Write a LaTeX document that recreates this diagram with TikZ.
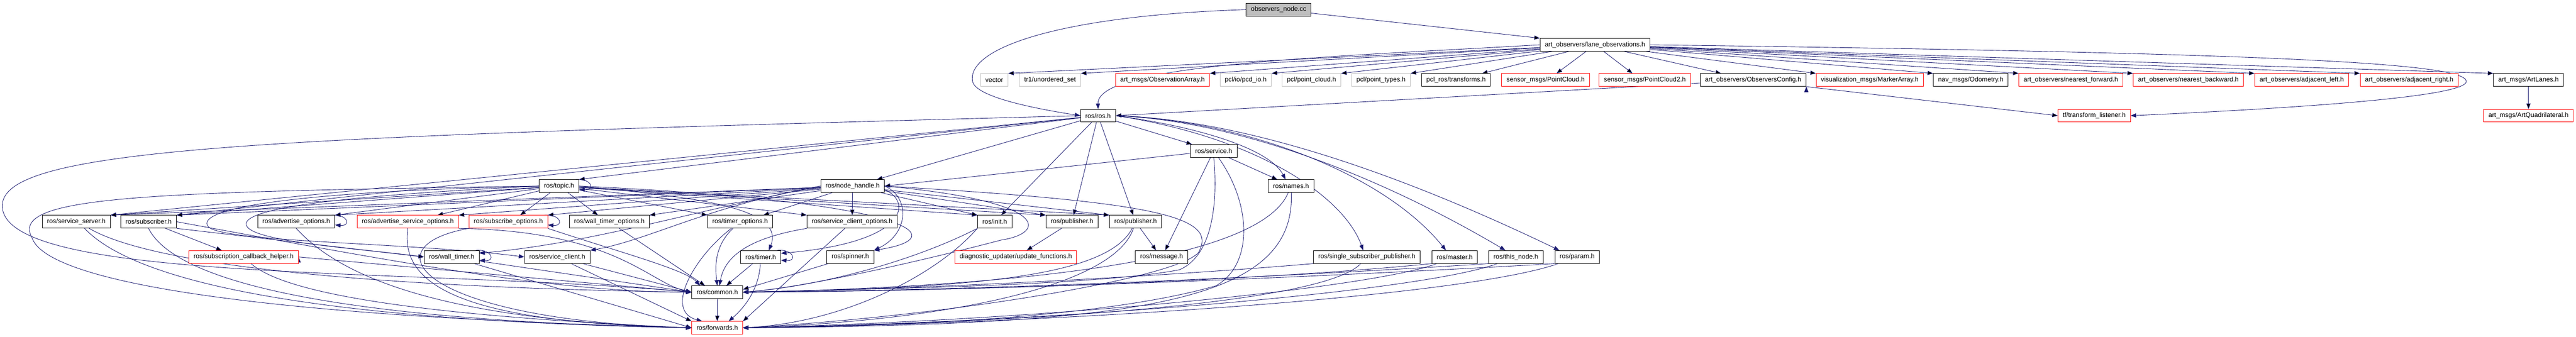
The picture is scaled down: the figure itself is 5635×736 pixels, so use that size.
\documentclass[tikz,border=0pt]{standalone}
\usepackage{fontspec}
\setmainfont{Liberation Sans}
\usepackage{tikz}
\usetikzlibrary{arrows.meta}
\definecolor{edgeblue}{HTML}{191970}
\definecolor{rootgray}{HTML}{BFBFBF}
\definecolor{extgray}{HTML}{C0C0C0}
\definecolor{truncred}{HTML}{FF0000}
\pgfdeclarelayer{edges}
\pgfsetlayers{edges,main}
\tikzset{file node/.style={rectangle,draw=black,fill=white,line width=1pt,minimum height=28pt,inner xsep=10.5pt,inner ysep=0pt,font=\fontsize{14.3pt}{16pt}\selectfont},
	trunc node/.style={file node,draw=truncred},
	ext node/.style={file node,draw=extgray},
	root node/.style={file node,fill=rootgray},
	inc edge/.style={draw=edgeblue,line width=1pt,-{Triangle[length=12pt,width=9pt]}},}

\begin{document}
\begin{tikzpicture}[x=1pt,y=1pt]
	\useasboundingbox (0,0) rectangle (5635,-736);
	\node[root node] (obs) at (2797,-21) {observers\_node.cc};
	\node[file node] (lane) at (3489,-98) {art\_observers/lane\_observations.h};

	\node[ext node] (vec) at (2175,-175) {vector};
	\node[ext node] (tr1) at (2297,-175) {tr1/unordered\_set};
	\node[trunc node] (obsarr) at (2543,-175) {art\_msgs/ObservationArray.h};
	\node[ext node] (pcdio) at (2725,-175) {pcl/io/pcd\_io.h};
	\node[ext node] (ptcloud) at (2869,-175) {pcl/point\_cloud.h};
	\node[ext node] (pttypes) at (3021,-175) {pcl/point\_types.h};
	\node[file node] (tfms) at (3185,-175) {pcl\_ros/transforms.h};
	\node[trunc node] (pc) at (3381,-175) {sensor\_msgs/PointCloud.h};
	\node[trunc node] (pc2) at (3598,-175) {sensor\_msgs/PointCloud2.h};
	\node[file node] (cfg) at (3835,-175) {art\_observers/ObserversConfig.h};
	\node[trunc node] (marker) at (4090,-175) {visualization\_msgs/MarkerArray.h};
	\node[file node] (odom) at (4311,-175) {nav\_msgs/Odometry.h};
	\node[trunc node] (nfwd) at (4530,-175) {art\_observers/nearest\_forward.h};
	\node[trunc node] (nbwd) at (4787,-175) {art\_observers/nearest\_backward.h};
	\node[trunc node] (adjl) at (5035,-175) {art\_observers/adjacent\_left.h};
	\node[trunc node] (adjr) at (5270,-175) {art\_observers/adjacent\_right.h};
	\node[file node] (lanes) at (5531,-175) {art\_msgs/ArtLanes.h};

	\node[file node] (ros) at (2402,-253) {ros/ros.h};
	\node[trunc node] (tfl) at (4581,-253) {tf/transform\_listener.h};
	\node[trunc node] (quad) at (5531,-253) {art\_msgs/ArtQuadrilateral.h};
	\node[file node] (service) at (2655,-330) {ros/service.h};

	\node[file node] (topic) at (1223,-407) {ros/topic.h};
	\node[file node] (nh) at (1865,-407) {ros/node\_handle.h};
	\node[file node] (names) at (2824,-407) {ros/names.h};

	\node[file node] (srvsrv) at (167,-485) {ros/service\_server.h};
	\node[file node] (sub) at (325,-485) {ros/subscriber.h};
	\node[file node] (advopt) at (648,-485) {ros/advertise\_options.h};
	\node[trunc node] (advsrvopt) at (892,-485) {ros/advertise\_service\_options.h};
	\node[trunc node] (subopt) at (1112,-485) {ros/subscribe\_options.h};
	\node[file node] (wtopt) at (1333,-485) {ros/wall\_timer\_options.h};
	\node[file node] (topt) at (1619,-485) {ros/timer\_options.h};
	\node[file node] (scopt) at (1864,-485) {ros/service\_client\_options.h};
	\node[file node] (init) at (2176,-485) {ros/init.h};
	\node[file node] (pub) at (2345,-485) {ros/publisher.h};
	\node[file node] (pubb) at (2484,-485) {ros/publisher.h};

	\node[trunc node] (scbh) at (533,-562) {ros/subscription\_callback\_helper.h};
	\node[file node] (wtimer) at (988,-562) {ros/wall\_timer.h};
	\node[file node] (sclient) at (1219,-562) {ros/service\_client.h};
	\node[file node] (timer) at (1664,-562) {ros/timer.h};
	\node[file node] (spinner) at (1860,-562) {ros/spinner.h};
	\node[trunc node] (upd) at (2222,-562) {diagnostic\_updater/update\_functions.h};
	\node[file node] (msg) at (2541,-562) {ros/message.h};
	\node[file node] (ssp) at (2990,-562) {ros/single\_subscriber\_publisher.h};
	\node[file node] (master) at (3182,-562) {ros/master.h};
	\node[file node] (thisnode) at (3316,-562) {ros/this\_node.h};
	\node[file node] (param) at (3450,-562) {ros/param.h};

	\node[file node] (common) at (1569,-639) {ros/common.h};
	\node[trunc node] (fwd) at (1569,-717) {ros/forwards.h};

	\begin{pgfonlayer}{edges}
	\path[inc edge]
	(obs) edge (lane.north west)
	(lane) edge (vec.north east)
	(lane) edge (tr1.north east)
	(lane) edge (obsarr.north east)
	(lane) edge (pcdio.north east)
	(lane) edge (ptcloud.north east)
	(lane) edge (pttypes.north east)
	(lane) edge ([xshift=57pt]tfms.north)
	(lane) edge ([xshift=24pt]pc.north)
	(lane) edge ([xshift=-27pt]pc2.north)
	(lane) edge ([xshift=-70pt]cfg.north)
	(lane) edge (marker.north west)
	(lane) edge (odom.north west)
	(lane) edge (nfwd.north west)
	(lane) edge (nbwd.north west)
	(lane) edge (adjl.north west)
	(lane) edge (adjr.north west)
	(lane) edge (lanes.north west)
	(cfg) edge (ros.east)
	(cfg.south east) edge (tfl.west)
	(lanes) edge (quad)
	;
	\draw[inc edge] (obs.west) .. controls (2300,-35) and (2110,-110) .. (2128,-180) .. controls (2140,-215) and (2280,-240) .. (ros.west);
	\draw[inc edge] (lane.west) .. controls (2900,-125) and (2400,-140) .. (ros.north);
	\draw[inc edge] (lane.east) .. controls (4900,-115) and (5395,-135) .. (5395,-178) .. controls (5395,-215) and (4950,-240) .. (tfl.east);

	\path[inc edge]
	(ros) edge (service)
	(ros) edge (init)
	(ros) edge (pub)
	(ros) edge (pubb)
	(ros) edge (topic.north east)
	(ros) edge ([xshift=-17pt]nh.north east)
	(ros) edge (srvsrv.north east)
	(ros) edge (sub.north east)
	(service) edge (nh.east)
	(service) edge ([xshift=-30pt]names.north)
	(service) edge ([xshift=8pt]msg.north)
	;
	\draw[inc edge] (ros.east) .. controls (2640,-280) and (2780,-330) .. ([xshift=-12pt]names.north);
	\draw[inc edge] (ros.east) .. controls (2750,-300) and (2940,-430) .. ([xshift=-8pt]ssp.north);
	\draw[inc edge] (ros.east) .. controls (2700,-262) and (3018,-369) .. ([xshift=-19pt]master.north);
	\draw[inc edge] (ros.east) .. controls (2720,-265) and (3035,-395) .. ([xshift=-23pt]thisnode.north);
	\draw[inc edge] (ros.east) .. controls (2740,-262) and (3096,-396) .. ([xshift=-39pt]param.north);
	\draw[inc edge] (ros.west) .. controls (600,-300) and (5,-320) .. (5,-450) .. controls (5,-620) and (900,-585) .. (common.west);

	\path[inc edge]
	(topic) edge (srvsrv.north east)
	(topic) edge (sub.north east)
	(topic) edge (advopt.north east)
	(topic) edge ([xshift=65pt]advsrvopt.north)
	(topic) edge ([xshift=26pt]subopt.north)
	(topic) edge ([xshift=-25pt]wtopt.north)
	(topic) edge ([xshift=-72pt]topt.north)
	(topic) edge (scopt.north west)
	(topic) edge (init.north west)
	(topic) edge (pub.north west)
	(topic) edge (pubb.north west)
	;
	\draw[inc edge] ([xshift=-8pt]topic.north east) .. controls +(36pt,3pt) and +(36pt,-3pt) .. ([yshift=-7pt]topic.east);
	\draw[inc edge] (topic.east) .. controls (1500,-430) and (1720,-450) .. ([xshift=18pt]timer.north);
	\draw[inc edge] (topic.east) .. controls (2000,-440) and (2090,-520) .. (spinner.north east);
	\draw[inc edge] (topic.west) .. controls (600,-420) and (430,-460) .. (455,-495) .. controls (480,-530) and (900,-530) .. (sclient.west);
	\draw[inc edge] (topic.west) .. controls (700,-430) and (520,-460) .. (540,-495) .. controls (560,-530) and (800,-545) .. (wtimer.west);
	\draw[inc edge] (topic.west) .. controls (300,-420) and (20,-430) .. (70,-520) .. controls (100,-610) and (500,-690) .. (fwd.west);

	\path[inc edge]
	(nh) edge (srvsrv.north east)
	(nh) edge (sub.north east)
	(nh) edge (advopt.north east)
	(nh) edge (advsrvopt.north east)
	(nh) edge (subopt.north east)
	(nh) edge (wtopt.north east)
	(nh) edge ([xshift=51pt]topt.north)
	(nh) edge (scopt)
	(nh) edge (init.north west)
	(nh) edge (pub.north west)
	(nh) edge (pubb.north west)
	;
	\draw[inc edge] (nh.west) .. controls (1550,-450) and (1420,-525) .. (sclient.north east);
	\draw[inc edge] (nh.west) .. controls (1480,-470) and (1300,-530) .. ([yshift=8pt]wtimer.east);
	\draw[inc edge] (nh.east) .. controls (1990,-430) and (1990,-510) .. (spinner.north east);
	\draw[inc edge] ([yshift=-8pt]nh.east) .. controls (1995,-440) and (1990,-530) .. ([yshift=8pt]timer.east);
	\draw[inc edge] (nh.east) .. controls (2300,-440) and (2290,-510) .. (2190,-525) .. controls (2000,-575) and (1750,-630) .. (common.east);
	\draw[inc edge] (nh.east) .. controls (2500,-440) and (2660,-470) .. (2625,-545) .. controls (2620,-600) and (2100,-690) .. (fwd.east);

	\path[inc edge]
	(sub) edge ([xshift=-48pt]scbh.north)
	(sub.south east) edge (wtimer.west)
	(pub) edge ([xshift=24pt]upd.north)
	(pubb) edge ([xshift=-12pt]msg.north)
	(wtopt) edge ([xshift=-27pt]common.north)
	(scopt) edge (fwd.north east)
	(sclient) edge (common.west)
	(sclient) edge (fwd.north west)
	(wtimer) edge (common.west)
	(wtimer) edge (fwd.west)
	(timer) edge ([xshift=20pt]common.north)
	(spinner) edge ([yshift=6pt]common.east)
	(scbh.east) edge (common.west)
	(common) edge (fwd)
	;
	\draw[inc edge] ([xshift=-8pt]advopt.north east) .. controls +(36pt,3pt) and +(36pt,-3pt) .. ([yshift=-7pt]advopt.east);
	\draw[inc edge] ([xshift=-8pt]subopt.north east) .. controls +(36pt,3pt) and +(36pt,-3pt) .. ([yshift=-7pt]subopt.east);
	\draw[inc edge] ([xshift=-8pt]wtimer.north east) .. controls +(36pt,3pt) and +(36pt,-3pt) .. ([yshift=-7pt]wtimer.east);
	\draw[inc edge] ([xshift=-8pt]timer.north east) .. controls +(36pt,3pt) and +(36pt,-3pt) .. ([yshift=-7pt]timer.east);

	\draw[inc edge] ([xshift=28pt]srvsrv.south) .. controls (350,-590) and (900,-630) .. (common.west);
	\draw[inc edge] ([xshift=18pt]srvsrv.south) .. controls (280,-600) and (600,-700) .. (fwd.west);
	\draw[inc edge] (sub.south) .. controls (380,-610) and (700,-700) .. (fwd.west);
	\draw[inc edge] (sub.east) .. controls (800,-560) and (1200,-640) .. (common.west);
	\draw[inc edge] (scbh) .. controls (620,-640) and (900,-690) .. (fwd.west);
	\draw[inc edge] (advopt.south) .. controls (740,-600) and (950,-700) .. (fwd.west);
	\draw[inc edge] (advsrvopt.south) .. controls (875,-620) and (1000,-705) .. (fwd.west);
	\draw[inc edge] (advsrvopt.south east) .. controls (1350,-505) and (1420,-620) .. (common.west);
	\draw[inc edge] (subopt.south west) .. controls (800,-540) and (920,-700) .. (fwd.west);
	\draw[inc edge] (subopt.south east) .. controls (1350,-550) and (1500,-590) .. ([xshift=-38pt]common.north);
	\draw[inc edge] (topt) .. controls (1560,-540) and (1565,-590) .. (common.north);
	\draw[inc edge] (topt) .. controls (1520,-560) and (1450,-680) .. ([xshift=-33pt]fwd.north);
	\draw[inc edge] (scopt.south west) .. controls (1640,-520) and (1585,-560) .. ([xshift=5pt]common.north);
	\draw[inc edge] (timer) .. controls (1660,-640) and (1620,-680) .. ([xshift=25pt]fwd.north);

	\draw[inc edge] (init.south west) .. controls (2000,-570) and (1800,-625) .. (common.east);
	\draw[inc edge] (init.south west) .. controls (2050,-600) and (1850,-705) .. (fwd.east);
	\draw[inc edge] (pubb) .. controls (2420,-610) and (2100,-630) .. (common.east);
	\draw[inc edge] (pubb) .. controls (2440,-620) and (2100,-700) .. (fwd.east);
	\draw[inc edge] (service.south) .. controls (2665,-450) and (2650,-560) .. (2580,-590) .. controls (2400,-625) and (1900,-632) .. (common.east);
	\draw[inc edge] (service) .. controls (2740,-450) and (2740,-580) .. (2660,-625) .. controls (2400,-700) and (1900,-715) .. (fwd.east);
	\draw[inc edge] (names) .. controls (2760,-560) and (2300,-625) .. (common.east);
	\draw[inc edge] (names) .. controls (2835,-660) and (2500,-710) .. (fwd.east);
	\draw[inc edge] (ssp.south west) .. controls (2600,-600) and (2100,-630) .. (common.east);
	\draw[inc edge] (ssp) .. controls (2900,-660) and (2300,-705) .. (fwd.east);
	\draw[inc edge] (master.south west) .. controls (2800,-610) and (2200,-635) .. (common.east);
	\draw[inc edge] (master) .. controls (3000,-630) and (2300,-700) .. (fwd.east);
	\draw[inc edge] (thisnode.south west) .. controls (2900,-600) and (2200,-635) .. (common.east);
	\draw[inc edge] (thisnode) .. controls (3100,-640) and (2300,-705) .. (fwd.east);
	\draw[inc edge] (param.south west) .. controls (3000,-600) and (2200,-637) .. (common.east);
	\draw[inc edge] (param) .. controls (3200,-650) and (2300,-708) .. (fwd.east);
	\end{pgfonlayer}
\end{tikzpicture}
\end{document}
